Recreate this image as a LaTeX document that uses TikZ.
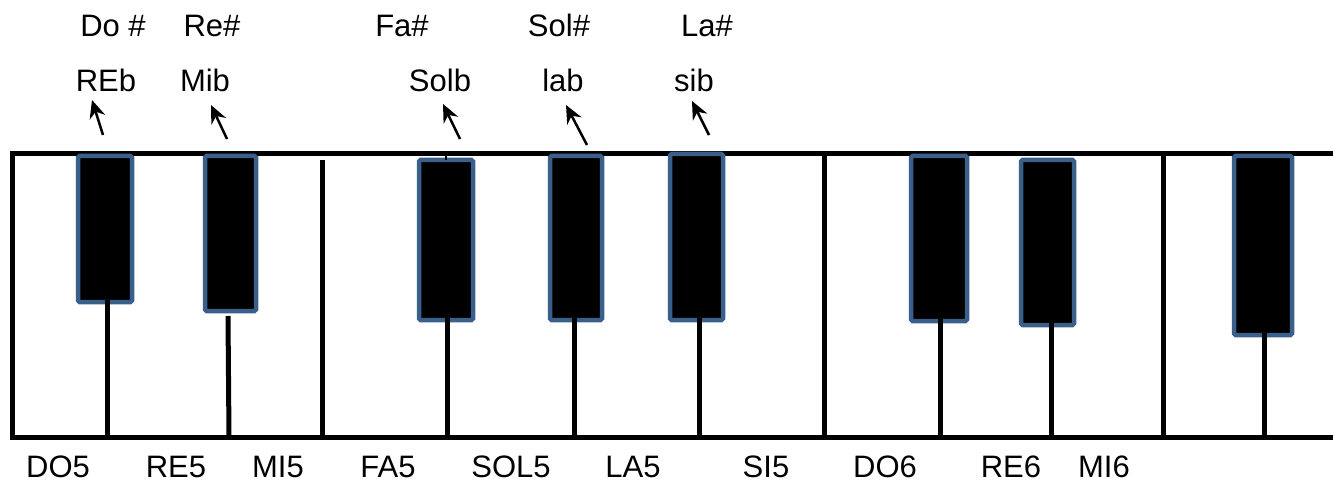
\documentclass[tikz,border=0pt]{standalone}
\usepackage{fontspec}
\setmainfont{Liberation Sans}
\usetikzlibrary{arrows.meta}
\definecolor{keyblue}{RGB}{58,95,139}
\begin{document}
\begin{tikzpicture}[x=1pt,y=-1pt,
  blackkey/.style={draw=keyblue,line width=4.5pt,fill=black,rounded corners=1.5pt,inner sep=0pt,outer sep=0pt,anchor=north west},
  stem/.style={line width=5pt,black},
  frame/.style={line width=5pt,black},
  lbl/.style={font=\fontsize{31}{36}\selectfont,anchor=base,inner sep=0pt},
  pointer/.style={line width=2.5pt,-{Stealth[length=18pt,width=16pt]}}]
\useasboundingbox (0,0) rectangle (1333,481);
% outline of the keyboard (open on the right)
\draw[frame] (1340,154) -- (12,154) -- (12,437) -- (1340,437);
% white-key dividers
\coordinate (d1t) at (322,160); \coordinate (d1b) at (322,437);
\coordinate (d2t) at (824,154); \coordinate (d2b) at (824,437);
\coordinate (d3t) at (1163,154); \coordinate (d3b) at (1163,435);
\draw[stem] (d1t) -- (d1b);
\draw[stem] (d2t) -- (d2b);
\draw[stem] (d3t) -- (d3b);
% stem ends on the bottom line
\coordinate (s1) at (107,437); \coordinate (s2) at (229,437); \coordinate (s3) at (447,437);
\coordinate (s4) at (574,437); \coordinate (s5) at (699,437); \coordinate (s6) at (940,437);
\coordinate (s7) at (1051,437); \coordinate (s8) at (1264,437);
\coordinate (s2t) at (228,316);
% black keys
\node[blackkey,minimum width=54pt,minimum height=146pt] (k1) at (78,156) {};
\node[blackkey,minimum width=51pt,minimum height=155pt] (k2) at (205,156) {};
\node[blackkey,minimum width=54pt,minimum height=160pt] (k3) at (419,160) {};
\node[blackkey,minimum width=52pt,minimum height=164pt] (k4) at (550,156) {};
\node[blackkey,minimum width=53pt,minimum height=166pt] (k5) at (670,154) {};
\node[blackkey,minimum width=56pt,minimum height=165pt] (k6) at (911,156) {};
\node[blackkey,minimum width=53pt,minimum height=165pt] (k7) at (1021,160) {};
\node[blackkey,minimum width=58pt,minimum height=179pt] (k8) at (1234,156) {};
\draw[stem] ([yshift=2pt]s1 |- k1.south) -- (s1);
\draw[stem] (s2t) -- (s2);
\draw[stem] ([yshift=2pt]s3 |- k3.south) -- (s3);
\draw[stem] ([yshift=2pt]s4 |- k4.south) -- (s4);
\draw[stem] ([yshift=2pt]s5 |- k5.south) -- (s5);
\draw[stem] ([yshift=2pt]s6 |- k6.south) -- (s6);
\draw[stem] ([yshift=2pt]s7 |- k7.south) -- (s7);
\draw[stem] ([yshift=2pt]s8 |- k8.south) -- (s8);
\draw[line width=2pt] (k3.north) -- ++(0,-4);
% top labels
\node[lbl] (t1) at (113,37) {Do \#};
\node[lbl] (t2) at (212,37) {Re\#};
\node[lbl] (t3) at (402,37) {Fa\#};
\node[lbl] (t4) at (559,37) {Sol\#};
\node[lbl] (t5) at (707,37) {La\#};
\node[lbl] (f1) at (106,92) {REb};
\node[lbl] (f2) at (205,92) {Mib};
\node[lbl] (f3) at (440,92) {Solb};
\node[lbl] (f4) at (563,92) {lab};
\node[lbl] (f5) at (694,92) {sib};
% arrows
\coordinate (a1) at (103,135); \coordinate (b1) at (92,100);
\coordinate (a2) at (227,139); \coordinate (b2) at (211,105);
\coordinate (a3) at (460,139); \coordinate (b3) at (443,104);
\coordinate (a4) at (587,145); \coordinate (b4) at (566,105);
\coordinate (a5) at (709,135); \coordinate (b5) at (692,101);
\draw[pointer] (a1) -- (b1);
\draw[pointer] (a2) -- (b2);
\draw[pointer] (a3) -- (b3);
\draw[pointer] (a4) -- (b4);
\draw[pointer] (a5) -- (b5);
% bottom labels
\node[lbl] (w1) at (58,477) {DO5};
\node[lbl] (w2) at (176,477) {RE5};
\node[lbl] (w3) at (278,477) {MI5};
\node[lbl] (w4) at (388,477) {FA5};
\node[lbl] (w5) at (511,477) {SOL5};
\node[lbl] (w6) at (633,477) {LA5};
\node[lbl] (w7) at (766,477) {SI5};
\node[lbl] (w8) at (885,477) {DO6};
\node[lbl] (w9) at (1011,477) {RE6};
\node[lbl] (w10) at (1104,477) {MI6};
\end{tikzpicture}
\end{document}
